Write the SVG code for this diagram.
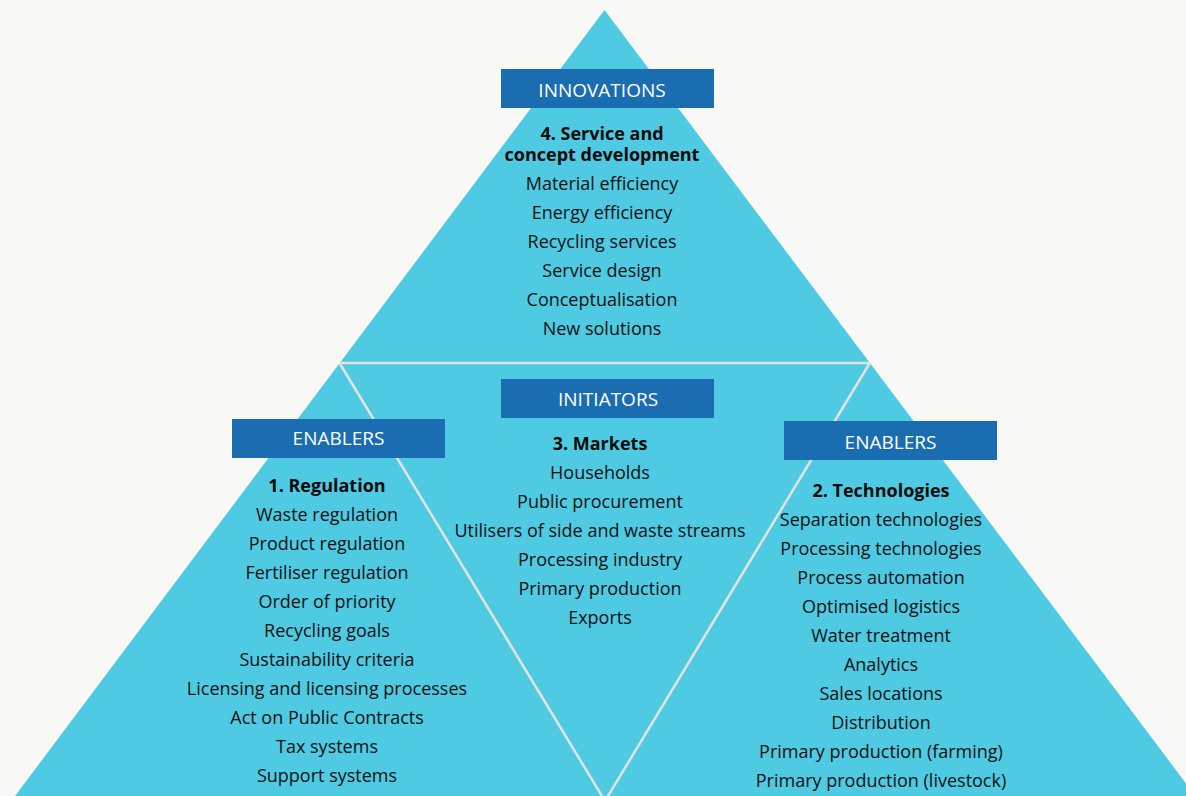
<svg xmlns="http://www.w3.org/2000/svg" width="1186" height="796" viewBox="0 0 1186 796">
<style>
.bg{fill:#f8f8f6}
.tri{fill:#4ecae2}
.line{stroke:#e3e3df;stroke-width:2.5;fill:none;stroke-linejoin:miter}
.box{fill:#1a6db0}
.lbl{font-family:"Open Sans","Liberation Sans",sans-serif;font-size:19px;fill:#ffffff;text-anchor:middle}
.hd{font-family:"Open Sans","Liberation Sans",sans-serif;font-size:18px;font-weight:bold;fill:#0a0a0a;text-anchor:middle}
.it{font-family:"Open Sans","Liberation Sans",sans-serif;font-size:18px;fill:#111111;text-anchor:middle}
</style>
<rect class="bg" x="0" y="0" width="1186" height="796"/>
<polygon class="tri" points="604.5,10 1206,810 4.5,810"/>
<g id="connectors">
<line class="line" x1="339.5" y1="363" x2="869.8" y2="363"/>
<line class="line" x1="339.5" y1="363" x2="605" y2="801"/>
<line class="line" x1="869.8" y1="363" x2="605" y2="801"/>
</g>
<g id="innovations">
<rect class="box" x="501" y="69" width="213" height="39"/>
<text class="lbl" x="602" y="97">INNOVATIONS</text>
<text class="hd" x="602" y="139.5"><tspan x="602" y="139.5">4. Service and</tspan><tspan x="602" y="161">concept development</tspan></text>
<text class="it" x="602" y="190">Material efficiency</text>
<text class="it" x="602" y="219">Energy efficiency</text>
<text class="it" x="602" y="248">Recycling services</text>
<text class="it" x="602" y="277">Service design</text>
<text class="it" x="602" y="306">Conceptualisation</text>
<text class="it" x="602" y="335">New solutions</text>
</g>
<g id="initiators">
<rect class="box" x="501" y="379" width="213" height="39"/>
<text class="lbl" x="608" y="406">INITIATORS</text>
<text class="hd" x="600" y="450">3. Markets</text>
<text class="it" x="600" y="479">Households</text>
<text class="it" x="600" y="508">Public procurement</text>
<text class="it" x="600" y="537">Utilisers of side and waste streams</text>
<text class="it" x="600" y="566">Processing industry</text>
<text class="it" x="600" y="595">Primary production</text>
<text class="it" x="600" y="624">Exports</text>
</g>
<g id="enablers-regulation">
<rect class="box" x="232" y="419" width="213" height="39"/>
<text class="lbl" x="338.5" y="445">ENABLERS</text>
<text class="hd" x="327" y="492">1. Regulation</text>
<text class="it" x="327" y="521">Waste regulation</text>
<text class="it" x="327" y="550">Product regulation</text>
<text class="it" x="327" y="579">Fertiliser regulation</text>
<text class="it" x="327" y="608">Order of priority</text>
<text class="it" x="327" y="637">Recycling goals</text>
<text class="it" x="327" y="666">Sustainability criteria</text>
<text class="it" x="327" y="695">Licensing and licensing processes</text>
<text class="it" x="327" y="724">Act on Public Contracts</text>
<text class="it" x="327" y="753">Tax systems</text>
<text class="it" x="327" y="782">Support systems</text>
</g>
<g id="enablers-technologies">
<rect class="box" x="784" y="421" width="213" height="39"/>
<text class="lbl" x="890.5" y="449">ENABLERS</text>
<text class="hd" x="881" y="497">2. Technologies</text>
<text class="it" x="881" y="526">Separation technologies</text>
<text class="it" x="881" y="555">Processing technologies</text>
<text class="it" x="881" y="584">Process automation</text>
<text class="it" x="881" y="613">Optimised logistics</text>
<text class="it" x="881" y="642">Water treatment</text>
<text class="it" x="881" y="671">Analytics</text>
<text class="it" x="881" y="700">Sales locations</text>
<text class="it" x="881" y="729">Distribution</text>
<text class="it" x="881" y="758">Primary production (farming)</text>
<text class="it" x="881" y="787">Primary production (livestock)</text>
</g>
</svg>
